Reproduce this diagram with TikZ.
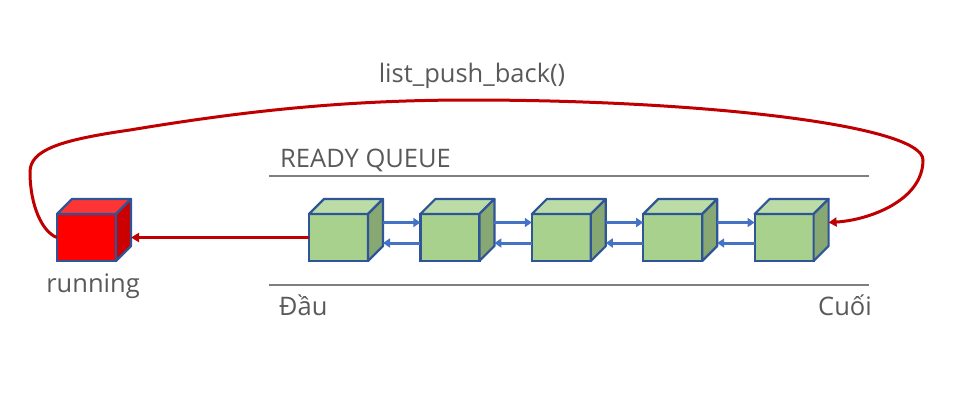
\documentclass[tikz,border=0pt]{standalone}
\usepackage{fontspec}
\setmainfont{Open Sans}
\usetikzlibrary{calc,arrows.meta}
\definecolor{greenfront}{HTML}{A9D18E}
\definecolor{greentop}{HTML}{BBDCA6}
\definecolor{greenside}{HTML}{87A872}
\definecolor{redfront}{HTML}{FF0000}
\definecolor{redtop}{HTML}{FF3535}
\definecolor{redside}{HTML}{CC0000}
\definecolor{edgeblue}{HTML}{2F5597}
\definecolor{linkblue}{HTML}{4472C4}
\definecolor{darkred}{HTML}{C00000}
\definecolor{textgray}{HTML}{595959}
\definecolor{rulegray}{HTML}{7F7F7F}
\tikzset{
	cubefront/.style={draw=edgeblue,line width=2.2pt,minimum width=59pt,minimum height=47pt,inner sep=0pt,outer sep=0pt},
	cubeedge/.style={draw=edgeblue,line width=2.2pt,line join=round},
	link/.style={draw=linkblue,line width=3pt,-{Triangle[length=7pt,width=9pt]}},
	label/.style={text=textgray,font=\fontsize{25.5}{30}\selectfont,inner sep=0pt}
}
\def\cube[#1](#2)(#3){\node[cubefront,fill=#1front] (#2) at (#3) {};
	\draw[cubeedge,fill=#1top] (#2.north west) -- ++(15,-15) -- ++(59,0) -- (#2.north east) -- cycle;
	\draw[cubeedge,fill=#1side] (#2.north east) -- ++(15,-15) -- ++(0,47) -- (#2.south east) -- cycle;
	\coordinate (#2-r) at ($(#2.east)+(15,0)$);}

\begin{document}
\begin{tikzpicture}[x=1pt,y=-1pt]
				\useasboundingbox (0,0) rectangle (967,413);
				
				\draw[rulegray,line width=2.2pt] (269,176) -- (869,176);
				\draw[rulegray,line width=2.2pt] (269,285) -- (869,285);
				
				\cube[red](run)(86.5,237.5)
				\foreach \i in {1,...,5}{
					\cube[green](q\i)({338.5+111.4*(\i-1)},237.5)
				}
				
				\foreach \i/\j in {1/2,2/3,3/4,4/5}{
					\draw[link] ([yshift=15pt]q\i-r) -- ([yshift=15pt]q\j.west);
					\draw[link] ([yshift=-5.5pt]q\j.west) -- ([yshift=-5.5pt]q\i-r);
				}
				
				\draw[darkred,line width=3pt,-{Triangle[length=8pt,width=9pt]}] (q1.west) -- (run-r);
				\draw[darkred,line width=3pt,-{Triangle[length=8pt,width=9pt]}] (run.west) .. controls (42,232) and (30,205) .. (30,172)
					.. controls (30,150) and (60,140) .. (130,130) .. controls (250,110) and (350,100) .. (470,100)
					.. controls (700,100) and (923,125) .. (923,160) .. controls (923,200) and (870,220) .. ([yshift=15pt]q5-r);
				
				\node[label,anchor=base] (title) at (472,82) {list\_push\_back()};
				\node[label,anchor=base west] (ready) at (280,167) {READY QUEUE};
				\node[label,anchor=base] (runlbl) at (93,292) {running};
				\node[label,anchor=base west] (head) at (279,315) {Đầu};
				\node[label,anchor=base east] (tail) at (872,315) {Cuối};
			\end{tikzpicture}
\end{document}
